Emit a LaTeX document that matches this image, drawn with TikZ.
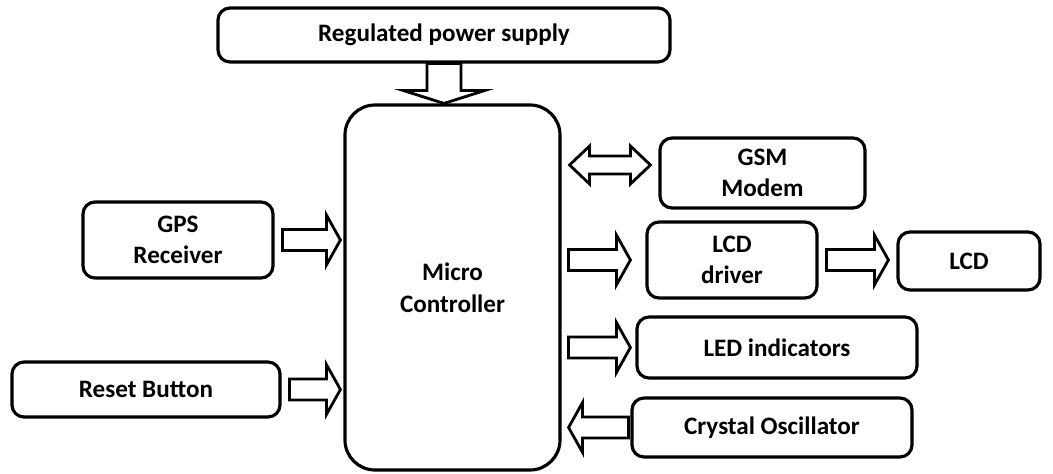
\documentclass[tikz,border=0pt]{standalone}
\usepackage{fontspec}
\setmainfont{Carlito}
\usetikzlibrary{positioning,calc}

% hollow block arrow: shaft half-width, head half-width, head length, from, to
\newcommand{\fatarrow}[5]{%
  \draw[fat] let \p1=#4, \p2=#5,
      \n1={veclen(\x2-\x1,\y2-\y1)},
      \n2={(\x2-\x1)/\n1}, \n3={(\y2-\y1)/\n1},
      \n4={\n1-#3}
    in (\x1-#1*\n3, \y1+#1*\n2)
    -- (\x1+\n4*\n2-#1*\n3, \y1+\n4*\n3+#1*\n2)
    -- (\x1+\n4*\n2-#2*\n3, \y1+\n4*\n3+#2*\n2)
    -- (\x2, \y2)
    -- (\x1+\n4*\n2+#2*\n3, \y1+\n4*\n3-#2*\n2)
    -- (\x1+\n4*\n2+#1*\n3, \y1+\n4*\n3-#1*\n2)
    -- (\x1+#1*\n3, \y1-#1*\n2) -- cycle;}

% same, with a head at both ends
\newcommand{\fatdarrow}[5]{%
  \draw[fat] let \p1=#4, \p2=#5,
      \n1={veclen(\x2-\x1,\y2-\y1)},
      \n2={(\x2-\x1)/\n1}, \n3={(\y2-\y1)/\n1},
      \n4={\n1-#3}, \n5={#3}
    in (\x1, \y1)
    -- (\x1+\n5*\n2-#2*\n3, \y1+\n5*\n3+#2*\n2)
    -- (\x1+\n5*\n2-#1*\n3, \y1+\n5*\n3+#1*\n2)
    -- (\x1+\n4*\n2-#1*\n3, \y1+\n4*\n3+#1*\n2)
    -- (\x1+\n4*\n2-#2*\n3, \y1+\n4*\n3+#2*\n2)
    -- (\x2, \y2)
    -- (\x1+\n4*\n2+#2*\n3, \y1+\n4*\n3-#2*\n2)
    -- (\x1+\n4*\n2+#1*\n3, \y1+\n4*\n3-#1*\n2)
    -- (\x1+\n5*\n2+#1*\n3, \y1+\n5*\n3-#1*\n2)
    -- (\x1+\n5*\n2+#2*\n3, \y1+\n5*\n3-#2*\n2)
    -- cycle;}

\begin{document}
\begin{tikzpicture}[
    box/.style={rectangle, draw=black, line width=1.8pt, fill=white,
                rounded corners=0.24cm, align=center,
                font=\bfseries\fontsize{14.3}{18}\selectfont},
    mcbox/.style={box, rounded corners=0.6cm},
    fat/.style={draw=black, line width=1.6pt, fill=white, line join=miter}
]
    \useasboundingbox (0,0) rectangle (21.06,-9.46);

    \node[box, minimum width=9.04cm, minimum height=1.08cm] (power) at (8.88,-0.70) {Regulated power supply};
    \node[mcbox, minimum width=4.3cm, minimum height=7.3cm] (mc) at (9.05,-5.75) {Micro\\ Controller};
    \node[box, minimum width=4.1cm, minimum height=1.4cm] (gsm) at (15.25,-3.46) {GSM\\ Modem};
    \node[box, minimum width=3.8cm, minimum height=1.52cm] (gps) at (3.56,-4.80) {GPS\\ Receiver};
    \node[box, minimum width=5.36cm, minimum height=1.1cm] (reset) at (2.92,-7.79) {Reset Button};
    \node[box, minimum width=3.4cm, minimum height=1.52cm] (lcddrv) at (14.64,-5.20) {LCD\\ driver};
    \node[box, minimum width=2.84cm, minimum height=1.16cm] (lcd) at (19.38,-5.22) {LCD};
    \node[box, minimum width=5.6cm, minimum height=1.22cm] (led) at (15.54,-6.95) {LED indicators};
    \node[box, minimum width=5.6cm, minimum height=1.18cm] (xtal) at (15.44,-8.55) {Crystal Oscillator};

    \fatarrow{0.34cm}{0.82cm}{0.26cm}{(power.south)}{(power.south |- mc.north)}
    \fatarrow{0.21cm}{0.5cm}{0.28cm}{($(gps.east)+(0.16,0)$)}{($(mc.west |- gps.east)+(-0.06,0)$)}
    \fatarrow{0.21cm}{0.5cm}{0.28cm}{($(reset.east)+(0.16,0)$)}{($(mc.west |- reset.east)+(-0.06,0)$)}
    \fatarrow{0.21cm}{0.5cm}{0.28cm}{($(mc.east |- lcddrv.west)+(0.14,0)$)}{($(lcddrv.west)+(-0.3,0)$)}
    \fatarrow{0.21cm}{0.5cm}{0.28cm}{($(lcddrv.east)+(0.16,0)$)}{($(lcd.west |- lcddrv.east)+(-0.16,0)$)}
    \fatarrow{0.21cm}{0.5cm}{0.28cm}{($(mc.east |- led.west)+(0.14,0)$)}{($(led.west)+(-0.1,0)$)}
    \fatarrow{0.21cm}{0.5cm}{0.28cm}{($(xtal.west)+(-0.04,0)$)}{($(mc.east |- xtal.west)+(0.14,0)$)}
    \fatdarrow{0.18cm}{0.38cm}{0.4cm}{($(mc.east |- gsm.west)+(0.16,0.16)$)}{($(gsm.west)+(-0.16,0.16)$)}
\end{tikzpicture}
\end{document}
